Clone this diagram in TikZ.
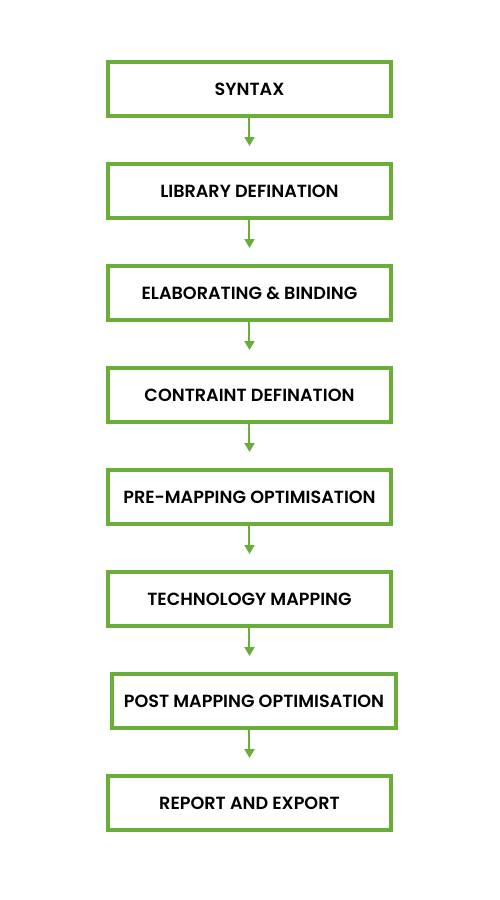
\documentclass[tikz,border=0pt]{standalone}
\usepackage{fontspec}
\setmainfont{Poppins SemiBold}
\usetikzlibrary{positioning,arrows.meta}
\definecolor{boxgreen}{RGB}{106,174,58}

\begin{document}
\begin{tikzpicture}[
    stage/.style={draw=boxgreen, line width=4pt, outer sep=0pt, minimum width=283pt, minimum height=54pt, font=\fontsize{17.6}{20}\selectfont},
    flow/.style={draw=boxgreen, line width=2pt, -{Triangle[width=10pt,length=9pt]}},
    node distance=48pt
  ]
            \useasboundingbox (-249.5pt,89pt) rectangle (250.5pt,-811pt);

            \node [stage] (s1) {SYNTAX};
            \node [stage, below=of s1] (s2) {LIBRARY DEFINATION};
            \node [stage, below=of s2] (s3) {ELABORATING \& BINDING};
            \node [stage, below=of s3] (s4) {CONTRAINT DEFINATION};
            \node [stage, below=of s4] (s5) {PRE-MAPPING OPTIMISATION};
            \node [stage, below=of s5] (s6) {TECHNOLOGY MAPPING};
            \node [stage, below=of s6, xshift=4.5pt] (s7) {POST MAPPING OPTIMISATION};
            \node [stage, below=of s7, xshift=-4.5pt] (s8) {REPORT AND EXPORT};

            \coordinate [above=18pt of s2.north] (t2);
            \coordinate [above=18pt of s3.north] (t3);
            \coordinate [above=18pt of s4.north] (t4);
            \coordinate [above=18pt of s5.north] (t5);
            \coordinate [above=18pt of s6.north] (t6);
            \coordinate [above=18pt of s7.north -| s6.north] (t7);
            \coordinate [above=18pt of s8.north] (t8);

            \draw [flow] (s1.south) -- (t2);
            \draw [flow] (s2.south) -- (t3);
            \draw [flow] (s3.south) -- (t4);
            \draw [flow] (s4.south) -- (t5);
            \draw [flow] (s5.south) -- (t6);
            \draw [flow] (s6.south) -- (t7);
            \draw [flow] (s7.south -| s8.north) -- (t8);
        \end{tikzpicture}
\end{document}
